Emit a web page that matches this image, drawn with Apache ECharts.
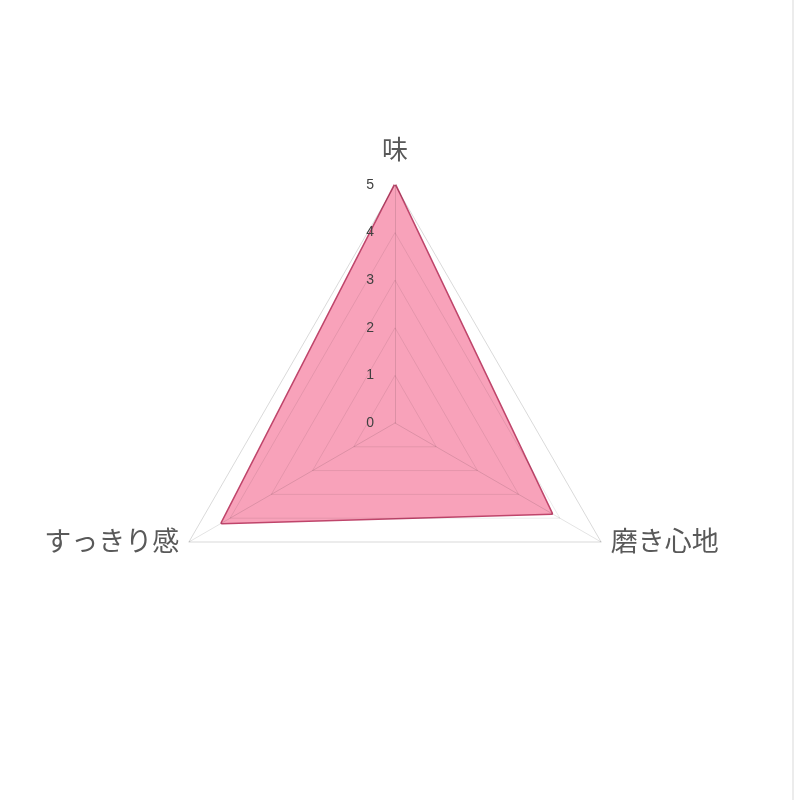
<!DOCTYPE html>
<html>
<head>
<meta charset="utf-8">
<script src="https://cdn.jsdelivr.net/npm/echarts@6/dist/echarts.min.js"></script>
<style>
  html, body { margin: 0; padding: 0; background: #fff; }
  #chart { width: 799px; height: 800px; }
  /* thin frame line on the right like the screenshot */
  #edge { position: absolute; left: 792px; top: 0; width: 2px; height: 800px; background: #ececec; }
</style>
</head>
<body>
<div id="chart"></div>
<div id="edge"></div>
<script>
// ECharts radar runs counter-clockwise, so order is top, lower-left, lower-right
const indicatorNames = ["味", "すっきり感", "磨き心地"];
const scores = [5, 4.2, 3.8];
const scaleMax = 5;
const tickCount = 5;

const myChart = echarts.init(document.getElementById("chart"));

const nameFont = { fontSize: 26, color: "#595959", fontFamily: "Noto Sans CJK JP" };

// inner rings faint (they sit on the pink), outer ring a bit stronger
const ringColors = ["rgba(0,0,0,0.08)", "rgba(0,0,0,0.08)", "rgba(0,0,0,0.08)",
  "rgba(0,0,0,0.08)", "rgba(0,0,0,0.08)", "rgba(0,0,0,0.15)"];

const option = {
  animation: false,
  radar: {
    z: 3, // grid + labels drawn over the filled area, like the original
    center: [395, 423],
    radius: 238,
    startAngle: 90,
    shape: "polygon",
    splitNumber: tickCount,
    nameGap: 11,
    axisName: {
      ...nameFont,
      formatter: (name) => (name === indicatorNames[0] ? "{top|" + name + "}" : "{side|" + name + "}"),
      rich: {
        top: { ...nameFont, padding: [0, 0, 12, 0] },
        side: { ...nameFont, fontSize: 27, padding: [0, 0, 14, 0] },
      },
    },
    indicator: indicatorNames.map((name, i) => ({
      name: name,
      min: 0,
      max: scaleMax,
      // only the first axis carries the value labels
      axisLabel: i === 0
        ? { show: true, color: "#404040", fontSize: 14, fontFamily: "Liberation Sans", margin: 21 }
        : { show: false },
    })),
    axisLine: { lineStyle: { color: "rgba(0,0,0,0.11)", width: 1 } },
    splitLine: { lineStyle: { color: ringColors, width: 1 } },
    splitArea: { show: false },
    axisTick: { show: false },
    axisLabel: { show: false },
  },
  series: [
    {
      type: "radar",
      symbol: "none",
      data: [
        {
          value: scores,
          lineStyle: { color: "#bf456b", width: 3 },
          areaStyle: { color: "#f8a2ba", opacity: 1 },
        },
      ],
    },
  ],
};

myChart.setOption(option);
</script>
</body>
</html>
